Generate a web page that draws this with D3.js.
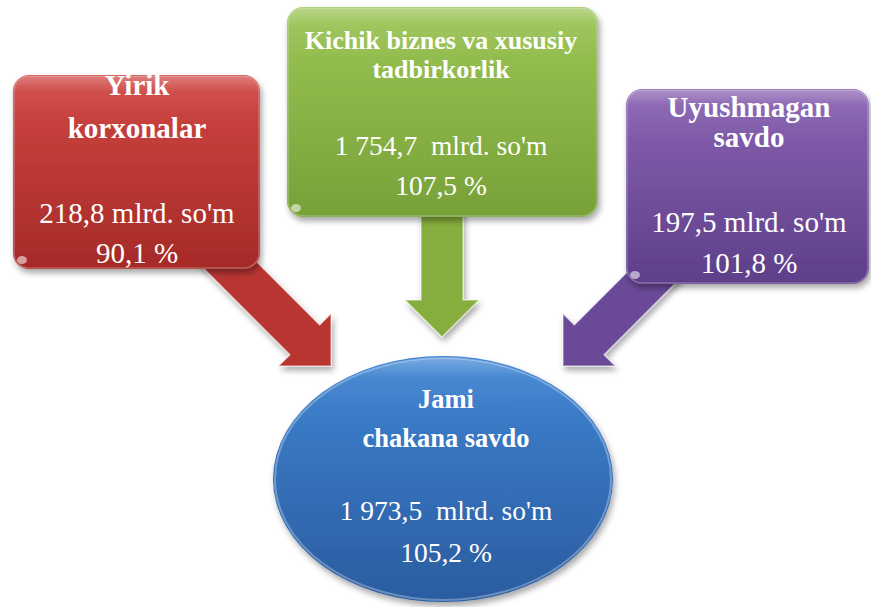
<!DOCTYPE html>
<html>
<head>
<meta charset="utf-8">
<script src="https://cdn.jsdelivr.net/npm/d3@7"></script>
<style>
  body { margin: 0; background: #fff; }
  svg { display: block; }
  text { font-family: "Liberation Serif", "Times New Roman", serif; fill: #fff; }
</style>
</head>
<body>
<svg id="SVG_CONTAINER" width="871" height="607"></svg>
<script>
// data
const titles = [["Yirik", "korxonalar"], ["Kichik biznes va xususiy", "tadbirkorlik"], ["Uyushmagan", "savdo"], ["Jami", "chakana savdo"]];
const amountLabels = ["218,8 mlrd. so'm", "1 754,7  mlrd. so'm", "197,5 mlrd. so'm", "1 973,5  mlrd. so'm"];
const percentLabels = ["90,1 %", "107,5 %", "101,8 %", "105,2 %"];
const colours = [["#d04643", "#a52a27"], ["#9cc556", "#77a138"], ["#8a63b3", "#5d3f89"], ["#3f84d3", "#2b5c9f"]];
const arrowColours = ["#b93430", "#86ad3d", "#6a4a98"];

const width = 871, height = 607;

// layout of the boxes (x, y, w, h) and text baselines
const boxes = [
    {x: 13, y: 75, w: 247, h: 194, cx: 137, lines: [95, 138, 223, 263], ts: 29, vs: 29},
    {x: 287, y: 7, w: 311, h: 210, cx: 441, lines: [49, 78, 155, 195], ts: 26, vs: 27.5},
    {x: 626, y: 89, w: 243, h: 195, cx: 749, lines: [117, 147, 232, 273], ts: 29, vs: 29}
];
const ellipse = {cx: 443, cy: 479, rx: 170, ry: 123, lines: [408, 447, 520, 562], ts: 26.5, vs: 27.5};

// arrows: start, tip
const arrows = [
    {s: [200, 235], t: [331, 366]},
    {s: [442, 205], t: [442, 337]},
    {s: [695, 234], t: [563, 366]}
];
const shaftW = 42, headW = 74, headL = 37;

let svg = d3.select("#SVG_CONTAINER");
let defs = svg.append("defs");

// drop shadow
let f = defs.append("filter").attr("id", "shadow").attr("x", "-10%").attr("y", "-10%").attr("width", "130%").attr("height", "130%");
f.append("feGaussianBlur").attr("in", "SourceAlpha").attr("stdDeviation", 3);
f.append("feOffset").attr("dx", 2).attr("dy", 4).attr("result", "off");
f.append("feComponentTransfer").append("feFuncA").attr("type", "linear").attr("slope", 0.35);
let m = f.append("feMerge");
m.append("feMergeNode");
m.append("feMergeNode").attr("in", "SourceGraphic");

colours.forEach(function (c, i) {
    let g = defs.append("linearGradient").attr("id", "grad" + i)
        .attr("x1", "0%").attr("y1", "0%").attr("x2", "0%").attr("y2", "100%");
    g.append("stop").attr("offset", 0).attr("stop-color", c[0]);
    g.append("stop").attr("offset", 1).attr("stop-color", c[1]);
});

// glossy top highlight
let gl = defs.append("linearGradient").attr("id", "gloss")
    .attr("x1", "0%").attr("y1", "0%").attr("x2", "0%").attr("y2", "100%");
gl.append("stop").attr("offset", 0).attr("stop-color", "#fff").attr("stop-opacity", 0.3);
gl.append("stop").attr("offset", 0.08).attr("stop-color", "#fff").attr("stop-opacity", 0.06);
gl.append("stop").attr("offset", 0.25).attr("stop-color", "#fff").attr("stop-opacity", 0);

//** ARROWS *****************************************
function arrowPoints(a) {
    let dx = a.t[0] - a.s[0], dy = a.t[1] - a.s[1];
    let len = Math.hypot(dx, dy);
    let ux = dx / len, uy = dy / len;
    let nx = -uy, ny = ux;
    let bx = a.t[0] - ux * headL, by = a.t[1] - uy * headL;
    return [
        [a.s[0] + nx * shaftW / 2, a.s[1] + ny * shaftW / 2],
        [bx + nx * shaftW / 2, by + ny * shaftW / 2],
        [bx + nx * headW / 2, by + ny * headW / 2],
        a.t,
        [bx - nx * headW / 2, by - ny * headW / 2],
        [bx - nx * shaftW / 2, by - ny * shaftW / 2],
        [a.s[0] - nx * shaftW / 2, a.s[1] - ny * shaftW / 2]
    ];
}

let line = d3.line();
svg.append("g").selectAll("path.arrow")
    .data(arrows)
    .enter()
    .append("path")
    .attr("class", "arrow")
    .attr("d", d => line(arrowPoints(d)) + "Z")
    .attr("fill", (d, i) => arrowColours[i])
    .attr("stroke", "rgba(255,255,255,0.45)")
    .attr("stroke-width", 1.5)
    .attr("filter", "url(#shadow)");

//** BOXES *****************************************
let boxG = svg.append("g").selectAll("g.box")
    .data(boxes)
    .enter()
    .append("g")
    .attr("class", "box");

boxG.append("rect")
    .attr("x", d => d.x).attr("y", d => d.y)
    .attr("width", d => d.w).attr("height", d => d.h)
    .attr("rx", 16)
    .attr("fill", (d, i) => "url(#grad" + i + ")")
    .attr("filter", "url(#shadow)");

boxG.append("rect")
    .attr("x", d => d.x + 1).attr("y", d => d.y + 1)
    .attr("width", d => d.w - 2).attr("height", d => d.h - 2)
    .attr("rx", 15)
    .attr("fill", "url(#gloss)")
    .attr("stroke", "rgba(255,255,255,0.25)")
    .attr("stroke-width", 1.5);

// little white shine at the bottom-left corner
boxG.append("ellipse")
    .attr("cx", d => d.x + 9).attr("cy", d => d.y + d.h - 9)
    .attr("rx", 5).attr("ry", 4)
    .attr("fill", "rgba(255,255,255,0.55)");

//** ELLIPSE *****************************************
svg.append("ellipse")
    .attr("cx", ellipse.cx).attr("cy", ellipse.cy)
    .attr("rx", ellipse.rx).attr("ry", ellipse.ry)
    .attr("fill", "url(#grad3)")
    .attr("filter", "url(#shadow)");
svg.append("ellipse")
    .attr("cx", ellipse.cx).attr("cy", ellipse.cy)
    .attr("rx", ellipse.rx - 2).attr("ry", ellipse.ry - 2)
    .attr("fill", "url(#gloss)")
    .attr("stroke", "rgba(255,255,255,0.3)")
    .attr("stroke-width", 2);

//** TEXT *****************************************
let textNodes = boxes.map(b => ({cx: b.cx, lines: b.lines, ts: b.ts, vs: b.vs}))
    .concat([{cx: ellipse.cx + 3, lines: ellipse.lines, ts: ellipse.ts, vs: ellipse.vs}]);

textNodes.forEach(function (n, i) {
    let rows = [
        {t: titles[i][0], bold: true, size: n.ts},
        {t: titles[i][1], bold: true, size: n.ts},
        {t: amountLabels[i], bold: false, size: n.vs},
        {t: percentLabels[i], bold: false, size: n.vs}
    ];
    svg.append("g").selectAll("text")
        .data(rows)
        .enter()
        .append("text")
        .attr("x", n.cx)
        .attr("y", (d, j) => n.lines[j])
        .attr("text-anchor", "middle")
        .style("white-space", "pre")
        .style("font-weight", d => d.bold ? "bold" : "normal")
        .style("font-size", d => d.size + "px")
        .text(d => d.t);
});
</script>
</body>
</html>
